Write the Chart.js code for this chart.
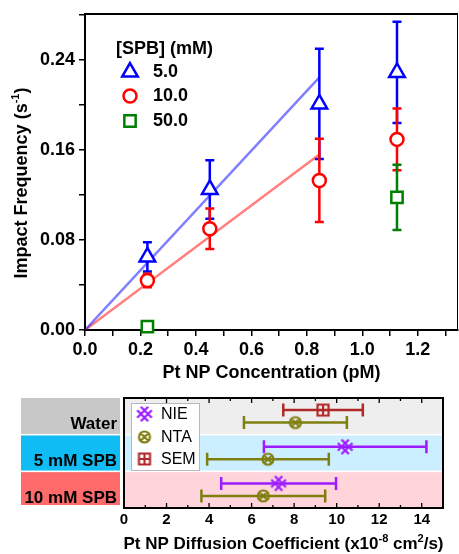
<!DOCTYPE html>
<html>
<head>
<meta charset="utf-8">
<script src="https://cdn.jsdelivr.net/npm/chart.js@4.4.0/dist/chart.umd.min.js"></script>
<style>
  body { margin: 0; background: #fff; }
  #wrap { position: relative; width: 459px; height: 554px; }
  canvas { position: absolute; left: 0; }
  #topChart { top: 0; }
  #bottomChart { top: 390px; }
</style>
</head>
<body>
<div id="wrap">
  <canvas id="topChart" width="459" height="390"></canvas>
  <canvas id="bottomChart" width="459" height="164"></canvas>
</div>
<script>
"use strict";

// ---- top chart data: impact frequency vs concentration ----
const concentrations = [0.225, 0.45, 0.845, 1.125];
const freq5mM = [0.065, 0.125, 0.201, 0.229];
const err5mM = [0.013, 0.026, 0.049, 0.045];
const freq10mM = [0.044, 0.090, 0.133, 0.1695];
const err10mM = [0.006, 0.018, 0.037, 0.0275];
const conc50mM = [0.225, 1.125];
const freq50mM = [0.003, 0.118];
const err50mM = [0, 0.029];
const fitConc = [0, 0.845];
const fit5mM = [0, 0.2246];
const fit10mM = [0, 0.156];
const concTicks = [0, 0.1, 0.2, 0.3, 0.4, 0.5, 0.6, 0.7, 0.8, 0.9, 1.0, 1.1, 1.2, 1.3];
const freqTicks = [0, 0.04, 0.08, 0.12, 0.16, 0.2, 0.24, 0.28];
const spbLabels = ["5.0", "10.0", "50.0"];

// ---- bottom chart data: diffusion coefficients ----
const mediums = ["Water", "5 mM SPB", "10 mM SPB"];
const nieValues = [null, 10.4, 7.27];
const nieErrors = [null, 3.82, 2.7];
const ntaValues = [8.06, 6.77, 6.55];
const ntaErrors = [2.42, 2.86, 2.91];
const semValues = [9.36, null, null];
const semErrors = [1.87, null, null];
const diffTicks = [0, 2, 4, 6, 8, 10, 12, 14];
const methodNames = ["NIE", "NTA", "SEM"];

const FONT = "'Liberation Sans', Arial, sans-serif";

function toPoints(xs, ys) {
  return xs.map((x, i) => ({ x: x, y: ys[i] }));
}

function drawRich(ctx, parts, x, y, size, weight) {
  const base = weight + " " + size + "px " + FONT;
  const sup = weight + " " + Math.round(size * 0.62) + "px " + FONT;
  let total = 0;
  parts.forEach(p => {
    ctx.font = p[1] ? sup : base;
    total += ctx.measureText(p[0]).width;
  });
  let cx = x - total / 2;
  ctx.textAlign = "left";
  ctx.textBaseline = "alphabetic";
  parts.forEach(p => {
    ctx.font = p[1] ? sup : base;
    ctx.fillText(p[0], cx, p[1] ? y - size * 0.42 : y);
    cx += ctx.measureText(p[0]).width;
  });
}

// vertical error bars for the scatter sets
const vErrorBars = {
  id: "vErrorBars",
  beforeDatasetsDraw(chart) {
    const ctx = chart.ctx;
    const xs = chart.scales.x;
    const ys = chart.scales.y;
    chart.data.datasets.forEach(ds => {
      if (!ds.errors) return;
      ctx.save();
      ctx.strokeStyle = ds.borderColor;
      ctx.lineWidth = 2.5;
      ds.data.forEach((pt, i) => {
        const e = ds.errors[i];
        if (!e) return;
        const px = xs.getPixelForValue(pt.x);
        const top = ys.getPixelForValue(pt.y + e);
        const bot = ys.getPixelForValue(pt.y - e);
        ctx.beginPath();
        ctx.moveTo(px, top); ctx.lineTo(px, bot);
        ctx.moveTo(px - 4.5, top); ctx.lineTo(px + 4.5, top);
        ctx.moveTo(px - 4.5, bot); ctx.lineTo(px + 4.5, bot);
        ctx.stroke();
      });
      ctx.restore();
    });
  },
  afterDraw(chart) {
    const ctx = chart.ctx;
    const a = chart.chartArea;
    ctx.save();
    // frame top + right
    ctx.strokeStyle = "#000";
    ctx.lineWidth = 2;
    ctx.beginPath();
    ctx.moveTo(a.left - 1, a.top); ctx.lineTo(a.right, a.top);
    ctx.stroke();
    ctx.lineWidth = 1;
    ctx.beginPath();
    ctx.moveTo(a.right - 0.5, a.top); ctx.lineTo(a.right - 0.5, a.bottom);
    ctx.stroke();

    // legend
    ctx.fillStyle = "#000";
    ctx.font = "bold 18px " + FONT;
    ctx.textAlign = "left";
    ctx.textBaseline = "middle";
    ctx.fillText("[SPB] (mM)", 116, 49);
    const legendSets = chart.data.datasets.filter(d => d.errors);
    const rowY = [72, 96, 121];
    legendSets.forEach((ds, i) => {
      ctx.strokeStyle = ds.borderColor;
      ctx.fillStyle = "#fff";
      ctx.lineWidth = ds.borderWidth;
      Chart.helpers.drawPoint(ctx, {
        pointStyle: ds.pointStyle, radius: ds.pointRadius, rotation: 0, borderWidth: ds.borderWidth
      }, 130, rowY[i]);
      ctx.fillStyle = "#000";
      ctx.fillText(spbLabels[i], 153, rowY[i]);
    });

    // axis titles
    ctx.fillStyle = "#000";
    drawRich(ctx, [["Pt NP Concentration (pM)", false]], (a.left + a.right) / 2, 378, 18, "bold");
    ctx.save();
    ctx.translate(27, 183);
    ctx.rotate(-Math.PI / 2);
    drawRich(ctx, [["Impact Frequency (s", false], ["-1", true], [")", false]], 0, 0, 18, "bold");
    ctx.restore();
    ctx.restore();
  }
};

new Chart(document.getElementById("topChart"), {
  type: "scatter",
  data: {
    datasets: [
      {
        label: spbLabels[0], data: toPoints(concentrations, freq5mM), errors: err5mM,
        pointStyle: "triangle", pointRadius: 9, borderWidth: 2.5,
        borderColor: "#0000ff", backgroundColor: "#ffffff", clip: false, order: 0
      },
      {
        label: spbLabels[1], data: toPoints(concentrations, freq10mM), errors: err10mM,
        pointStyle: "circle", pointRadius: 6.5, borderWidth: 2.5,
        borderColor: "#ff0000", backgroundColor: "#ffffff", clip: false, order: 0
      },
      {
        label: spbLabels[2], data: toPoints(conc50mM, freq50mM), errors: err50mM,
        pointStyle: "rect", pointRadius: 8, borderWidth: 2.5,
        borderColor: "#008000", backgroundColor: "#ffffff", clip: false, order: 0
      },
      {
        label: "fit 5", data: toPoints(fitConc, fit5mM), showLine: true, pointRadius: 0,
        borderColor: "rgba(0,0,255,0.5)", borderWidth: 2.5, order: 2
      },
      {
        label: "fit 10", data: toPoints(fitConc, fit10mM), showLine: true, pointRadius: 0,
        borderColor: "rgba(255,0,0,0.5)", borderWidth: 2.5, order: 2
      }
    ]
  },
  options: {
    responsive: false,
    animation: false,
    layout: { autoPadding: false, padding: { top: 14, right: 1, left: 0, bottom: 0 } },
    plugins: { legend: { display: false }, tooltip: { enabled: false } },
    scales: {
      x: {
        type: "linear", min: 0, max: 1.345,
        afterBuildTicks: s => { s.ticks = concTicks.map(v => ({ value: v })); },
        afterFit: s => { s.height = 60; s.paddingLeft = 0; s.paddingRight = 0; },
        border: { color: "#000", width: 2 },
        grid: { drawOnChartArea: false, color: "#000", lineWidth: 1.5, tickLength: 6 },
        ticks: {
          color: "#000", font: { family: FONT, size: 18, weight: "bold" }, padding: 3,
          autoSkip: false, maxRotation: 0,
          callback: (v, i) => (i % 2 === 0 ? v.toFixed(1) : "")
        }
      },
      y: {
        type: "linear", min: 0, max: 0.281,
        afterBuildTicks: s => { s.ticks = freqTicks.map(v => ({ value: v })); },
        afterFit: s => { s.width = 85; s.paddingTop = 0; s.paddingBottom = 0; },
        border: { color: "#000", width: 2 },
        grid: { drawOnChartArea: false, color: "#000", lineWidth: 1.5, tickLength: 6 },
        ticks: {
          color: "#000", font: { family: FONT, size: 18, weight: "bold" }, padding: 4,
          autoSkip: false,
          callback: (v, i) => (i % 2 === 0 ? v.toFixed(2) : "")
        }
      }
    }
  },
  plugins: [vErrorBars]
});

// ---- markers for the bottom chart ----
function makeMarker(kind, color) {
  const c = document.createElement("canvas");
  c.width = 18; c.height = 18;
  const g = c.getContext("2d");
  g.strokeStyle = color;
  g.lineWidth = 2.2;
  g.translate(9, 9);
  g.beginPath();
  if (kind === "NIE") {
    [-1.8, 1.8].forEach(d => {
      g.moveTo(-5.5 + d, -5.5 - d); g.lineTo(5.5 + d, 5.5 - d);
      g.moveTo(-5.5 + d, 5.5 + d); g.lineTo(5.5 + d, -5.5 + d);
    });
  } else if (kind === "NTA") {
    g.arc(0, 0, 5.5, 0, Math.PI * 2);
    g.moveTo(-3.8, -3.8); g.lineTo(3.8, 3.8);
    g.moveTo(-3.8, 3.8); g.lineTo(3.8, -3.8);
  } else {
    g.rect(-5.5, -5.5, 11, 11);
    g.moveTo(0, -5.5); g.lineTo(0, 5.5);
    g.moveTo(-5.5, 0); g.lineTo(5.5, 0);
  }
  g.stroke();
  return c;
}

const methodColors = ["#9d1bff", "#7f7f10", "#b02828"];
const rowOffsets = [-0.17, 0.17, -0.17];
const markers = methodNames.map((m, i) => makeMarker(m, methodColors[i]));
const bandColors = ["#eeeeee", "#ccefff", "#ffd4db"];
const labelBoxColors = ["#c8c8c8", "#0fbcf4", "#ff6b6b"];

function methodPoints(values, offset) {
  const pts = [];
  values.forEach((v, i) => { if (v !== null) pts.push({ x: v, y: i + offset }); });
  return pts;
}
function methodErrors(errors) {
  return errors.filter(e => e !== null);
}

const hBands = {
  id: "hBands",
  beforeDatasetsDraw(chart) {
    const ctx = chart.ctx;
    const a = chart.chartArea;
    const ys = chart.scales.y;
    const xs = chart.scales.x;
    ctx.save();
    mediums.forEach((name, i) => {
      const y0 = ys.getPixelForValue(i - 0.5);
      const y1 = ys.getPixelForValue(i + 0.5);
      const t = Math.min(y0, y1) + (i === 0 ? 0 : 0.8);
      const b = Math.max(y0, y1) - (i === mediums.length - 1 ? 0 : 0.8);
      ctx.fillStyle = bandColors[i];
      ctx.fillRect(a.left, t, a.right - a.left, b - t);
      // label box on the left
      ctx.fillStyle = labelBoxColors[i];
      ctx.fillRect(21, t, 99, b - t - (i === mediums.length - 1 ? 3 : 0));
      ctx.fillStyle = "#000";
      ctx.font = "bold 17px " + FONT;
      ctx.textAlign = "right";
      ctx.textBaseline = "alphabetic";
      ctx.fillText(name, 117, b - 5);
    });
    // horizontal error bars
    ctx.lineWidth = 2.5;
    chart.data.datasets.forEach((ds, k) => {
      ctx.strokeStyle = methodColors[k];
      ds.data.forEach((pt, i) => {
        const e = ds.errors[i];
        const py = ys.getPixelForValue(pt.y);
        const l = xs.getPixelForValue(pt.x - e);
        const r = xs.getPixelForValue(pt.x + e);
        ctx.beginPath();
        ctx.moveTo(l, py); ctx.lineTo(r, py);
        ctx.moveTo(l, py - 6.5); ctx.lineTo(l, py + 6.5);
        ctx.moveTo(r, py - 6.5); ctx.lineTo(r, py + 6.5);
        ctx.stroke();
      });
    });
    ctx.restore();
  },
  afterDraw(chart) {
    const ctx = chart.ctx;
    const a = chart.chartArea;
    const xs = chart.scales.x;
    ctx.save();
    // frame
    ctx.strokeStyle = "#000";
    ctx.lineWidth = 2;
    ctx.strokeRect(a.left, a.top, a.right - a.left, a.bottom - a.top);
    // inward ticks, majors every 2, minors every 1
    ctx.lineWidth = 1.3;
    ctx.beginPath();
    for (let v = 1; v < 15; v++) {
      const px = xs.getPixelForValue(v);
      const len = v % 2 === 0 ? 5 : 3;
      ctx.moveTo(px, a.top); ctx.lineTo(px, a.top + len);
      ctx.moveTo(px, a.bottom); ctx.lineTo(px, a.bottom - len);
    }
    ctx.stroke();

    // legend
    ctx.fillStyle = "#fff";
    ctx.fillRect(131, 13, 69, 68);
    ctx.strokeStyle = "#b8b8b8";
    ctx.lineWidth = 1;
    ctx.strokeRect(131.5, 13.5, 68, 67);
    const rowY = [24, 47, 69];
    ctx.font = "16px " + FONT;
    ctx.textAlign = "left";
    ctx.textBaseline = "middle";
    methodNames.forEach((m, i) => {
      ctx.drawImage(markers[i], 144.5 - 9, rowY[i] - 9);
      ctx.fillStyle = "#000";
      ctx.fillText(m, 161, rowY[i] + 1);
    });

    // axis title
    ctx.fillStyle = "#000";
    drawRich(ctx, [["Pt NP Diffusion Coefficient (x10", false], ["-8", true], [" cm", false], ["2", true], ["/s)", false]],
      (a.left + a.right) / 2, 159, 17, "bold");
    ctx.restore();
  }
};

new Chart(document.getElementById("bottomChart"), {
  type: "scatter",
  data: {
    datasets: methodNames.map((m, k) => {
      const vals = [nieValues, ntaValues, semValues][k];
      const errs = [nieErrors, ntaErrors, semErrors][k];
      return {
        label: m,
        data: methodPoints(vals, rowOffsets[k]),
        errors: methodErrors(errs),
        pointStyle: markers[k],
        clip: false
      };
    })
  },
  options: {
    responsive: false,
    animation: false,
    layout: { autoPadding: false, padding: { top: 8, right: 16, left: 124, bottom: 0 } },
    plugins: { legend: { display: false }, tooltip: { enabled: false } },
    scales: {
      x: {
        type: "linear", min: 0, max: 15,
        afterBuildTicks: s => { s.ticks = diffTicks.map(v => ({ value: v })); },
        afterFit: s => { s.height = 46; s.paddingLeft = 0; s.paddingRight = 0; },
        border: { display: false },
        grid: { display: false, drawTicks: false },
        ticks: {
          color: "#000", font: { family: FONT, size: 15, weight: "bold" }, padding: 3,
          autoSkip: false, maxRotation: 0
        }
      },
      y: {
        type: "linear", min: -0.5, max: 2.5, reverse: true, display: false
      }
    }
  },
  plugins: [hBands]
});
</script>
</body>
</html>
